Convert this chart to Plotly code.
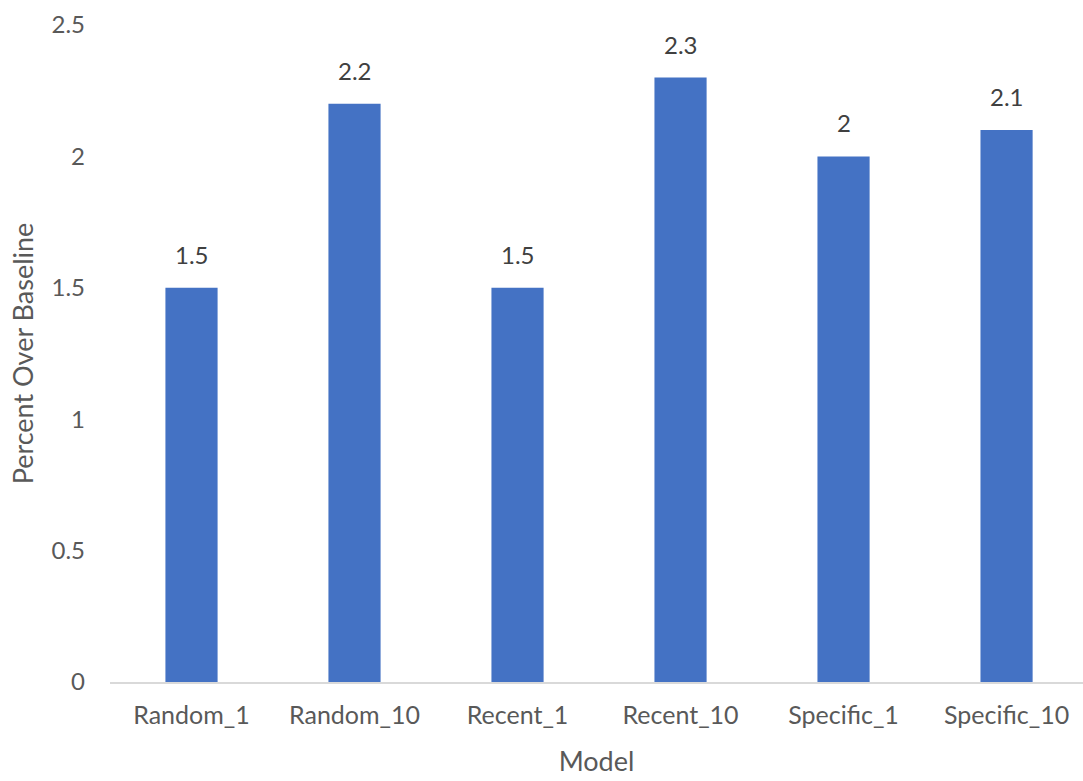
import plotly.graph_objects as go

categories = ["Random_1", "Random_10", "Recent_1", "Recent_10", "Specific_1", "Specific_10"]
values = [1.5, 2.2, 1.5, 2.3, 2.0, 2.1]
value_labels = ["1.5", "2.2", "1.5", "2.3", "2", "2.1"]
y_ticks = [0, 0.5, 1, 1.5, 2, 2.5]
y_tick_text = ["0", "0.5", "1", "1.5", "2", "2.5"]

FONT = "Lato"
GRAY = "#595959"

fig = go.Figure()
fig.add_trace(go.Bar(
    x=categories, y=values,
    marker=dict(color="#4472C4", line=dict(width=0)),
    hoverinfo="skip",
))

for c, v, t in zip(categories, values, value_labels):
    fig.add_annotation(x=c, y=v, text=t, showarrow=False, yanchor="bottom",
                       yshift=17, font=dict(family=FONT, size=24, color="#404040"))

fig.update_layout(
    width=1083, height=781,
    margin=dict(l=110, r=0, t=25, b=99),
    paper_bgcolor="white", plot_bgcolor="white",
    showlegend=False,
    bargap=0.68,
    font=dict(family=FONT, size=24, color=GRAY),
    xaxis=dict(
        range=[-0.5, 5.469],
        showline=True, linecolor="#D9D9D9", linewidth=1.5,
        showgrid=False, ticks="", ticklabelstandoff=10,
        tickfont=dict(family=FONT, size=25, color=GRAY),
        title=dict(text="Model", standoff=24, font=dict(family=FONT, size=27, color=GRAY)),
    ),
    yaxis=dict(
        range=[0, 2.5],
        tickvals=y_ticks, ticktext=y_tick_text,
        showline=False, showgrid=False, zeroline=False, ticks="",
        ticklabelstandoff=24,
        tickfont=dict(family=FONT, size=24, color=GRAY),
        title=dict(text="Percent Over Baseline", standoff=10, font=dict(family=FONT, size=27, color=GRAY)),
    ),
)

fig.write_html("out.html")
